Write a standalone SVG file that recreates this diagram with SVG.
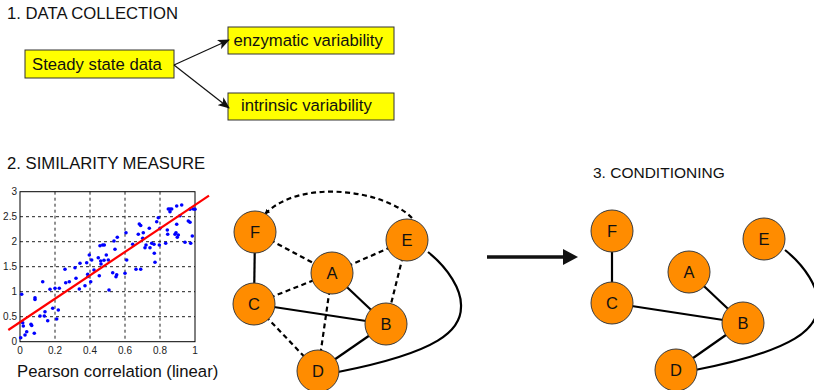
<svg xmlns="http://www.w3.org/2000/svg" width="814" height="390" viewBox="0 0 814 390">
  <style>
    .title { font-family: "Liberation Sans", Arial, sans-serif; font-size: 16.7px; fill: #111; }
    .lbl { font-family: "Liberation Sans", Arial, sans-serif; font-size: 16.7px; fill: #111; }
    .box { fill: #ffff00; stroke: #333; stroke-width: 1; }
    .flow { fill: none; stroke: #111; stroke-width: 1.2; }
    .tick { font-family: "Liberation Sans", Arial, sans-serif; font-size: 10px; fill: #222; }
    .grid { stroke: #222; stroke-width: 1; stroke-dasharray: 3 3; fill: none; }
    .pt { fill: #0000ff; }
    .node circle { fill: #ff8c00; stroke: #3a3a3a; stroke-width: 1; }
    .node text { font-family: "Liberation Sans", Arial, sans-serif; font-size: 16.5px; fill: #111; text-anchor: middle; }
    .solid { fill: none; stroke: #000; stroke-width: 2.2; }
    .dash { fill: none; stroke: #000; stroke-width: 2.2; stroke-dasharray: 5 3.5; }
  </style>
  <defs>
    <marker id="arr" viewBox="0 0 12 10" refX="11" refY="5" markerWidth="12" markerHeight="10" markerUnits="userSpaceOnUse" orient="auto">
      <path d="M0,0 L12,5 L0,10 L3,5 z" fill="#111"/>
    </marker>
    <marker id="arrSmall" viewBox="0 0 6 6" refX="5.5" refY="3" markerWidth="5" markerHeight="5" markerUnits="userSpaceOnUse" orient="auto">
      <path d="M0,0 L6,3 L0,6 z" fill="#000"/>
    </marker>
  </defs>

  <!-- section 1: data collection -->
  <text class="title" x="7" y="18.5">1. DATA COLLECTION</text>
  <g id="steady">
    <rect class="box" x="25" y="50" width="149" height="28"/>
    <text class="lbl" x="32" y="69.5">Steady state data</text>
  </g>
  <g id="enzymatic">
    <rect class="box" x="228" y="27" width="166" height="27"/>
    <text class="lbl" x="233.5" y="46">enzymatic variability</text>
  </g>
  <g id="intrinsic">
    <rect class="box" x="228" y="93" width="166" height="27"/>
    <text class="lbl" x="241" y="111">intrinsic variability</text>
  </g>
  <g id="flow-arrows">
    <line class="flow" x1="174" y1="65" x2="229" y2="40" marker-end="url(#arr)"/>
    <line class="flow" x1="174" y1="65" x2="229" y2="108" marker-end="url(#arr)"/>
  </g>

  <!-- section 2: similarity measure -->
  <text class="title" x="7" y="169">2. SIMILARITY MEASURE</text>
  <g id="scatter-plot">
    <rect x="20" y="191.7" width="175" height="150" fill="#fff"/>
    <g class="grid">
      <line x1="55" y1="191.7" x2="55" y2="341.7"/>
      <line x1="90" y1="191.7" x2="90" y2="341.7"/>
      <line x1="125" y1="191.7" x2="125" y2="341.7"/>
      <line x1="160" y1="191.7" x2="160" y2="341.7"/>
      <line x1="20" y1="216.7" x2="195" y2="216.7"/>
      <line x1="20" y1="241.7" x2="195" y2="241.7"/>
      <line x1="20" y1="266.7" x2="195" y2="266.7"/>
      <line x1="20" y1="291.7" x2="195" y2="291.7"/>
      <line x1="20" y1="316.7" x2="195" y2="316.7"/>
    </g>
    <rect x="20" y="191.7" width="175" height="150" fill="none" stroke="#000" stroke-width="1"/>
    <g class="tick" text-anchor="end">
      <text x="17" y="195">3</text>
      <text x="17" y="220">2.5</text>
      <text x="17" y="245">2</text>
      <text x="17" y="270">1.5</text>
      <text x="17" y="295">1</text>
      <text x="17" y="320">0.5</text>
      <text x="17" y="345">0</text>
    </g>
    <g class="tick" text-anchor="middle">
      <text x="20" y="354">0</text>
      <text x="55" y="354">0.2</text>
      <text x="90" y="354">0.4</text>
      <text x="125" y="354">0.6</text>
      <text x="160" y="354">0.8</text>
      <text x="195" y="354">1</text>
    </g>
    <g class="pt">
      <circle cx="20.7" cy="337.7" r="1.8"/><circle cx="21.7" cy="294.3" r="1.8"/>
      <circle cx="22.7" cy="322.7" r="1.8"/><circle cx="23.3" cy="326" r="1.8"/>
      <circle cx="25" cy="335" r="1.8"/><circle cx="26.7" cy="331.7" r="1.8"/>
      <circle cx="31" cy="324.3" r="1.8"/><circle cx="31.7" cy="325.5" r="1.8"/>
      <circle cx="34.3" cy="333.3" r="1.8"/><circle cx="35" cy="297.7" r="1.8"/>
      <circle cx="35" cy="299.5" r="1.8"/><circle cx="40" cy="316" r="1.8"/>
      <circle cx="42.7" cy="281.7" r="1.8"/><circle cx="44.3" cy="316" r="1.8"/>
      <circle cx="45" cy="311.7" r="1.8"/><circle cx="47.7" cy="320.7" r="1.8"/>
      <circle cx="50" cy="289.3" r="1.8"/><circle cx="52.7" cy="308.3" r="1.8"/>
      <circle cx="55" cy="288.3" r="1.8"/><circle cx="56.7" cy="319" r="1.8"/>
      <circle cx="58.3" cy="310" r="1.8"/><circle cx="59.3" cy="288.3" r="1.8"/>
      <circle cx="65" cy="269.3" r="1.8"/><circle cx="65.7" cy="282.7" r="1.8"/>
      <circle cx="69.3" cy="281.7" r="1.8"/><circle cx="75" cy="267.7" r="1.8"/>
      <circle cx="76" cy="278.3" r="1.8"/><circle cx="79.3" cy="289" r="1.8"/>
      <circle cx="80" cy="263.3" r="1.8"/><circle cx="85" cy="285.7" r="1.8"/>
      <circle cx="86.7" cy="262.7" r="1.8"/><circle cx="87.7" cy="274.3" r="1.8"/>
      <circle cx="88" cy="276.5" r="1.8"/><circle cx="89.3" cy="255" r="1.8"/>
      <circle cx="90.7" cy="281.7" r="1.8"/><circle cx="91.7" cy="260" r="1.8"/>
      <circle cx="94" cy="270" r="1.8"/><circle cx="98.3" cy="257.7" r="1.8"/>
      <circle cx="99.3" cy="275.7" r="1.8"/><circle cx="100" cy="245.7" r="1.8"/>
      <circle cx="102.7" cy="245" r="1.8"/><circle cx="101" cy="264" r="1.8"/>
      <circle cx="100.7" cy="261" r="1.8"/><circle cx="104" cy="260.3" r="1.8"/>
      <circle cx="104.3" cy="245" r="1.8"/><circle cx="106.3" cy="255" r="1.8"/>
      <circle cx="108.3" cy="260" r="1.8"/><circle cx="109" cy="290" r="1.8"/>
      <circle cx="112.7" cy="272.7" r="1.8"/><circle cx="115" cy="249.3" r="1.8"/>
      <circle cx="116" cy="276.7" r="1.8"/><circle cx="116.7" cy="274.8" r="1.8"/>
      <circle cx="114" cy="241" r="1.8"/><circle cx="117.3" cy="237.3" r="1.8"/>
      <circle cx="125" cy="273.3" r="1.8"/><circle cx="126" cy="232.7" r="1.8"/>
      <circle cx="126.7" cy="260" r="1.8"/><circle cx="132.7" cy="244.3" r="1.8"/>
      <circle cx="136" cy="269.3" r="1.8"/><circle cx="139.3" cy="224" r="1.8"/>
      <circle cx="140.7" cy="225.5" r="1.8"/><circle cx="138.3" cy="234.3" r="1.8"/>
      <circle cx="140.7" cy="269.3" r="1.8"/><circle cx="143.3" cy="232.7" r="1.8"/>
      <circle cx="142.7" cy="238.3" r="1.8"/><circle cx="145" cy="247.7" r="1.8"/>
      <circle cx="146" cy="245" r="1.8"/><circle cx="149.3" cy="228.3" r="1.8"/>
      <circle cx="150" cy="247.7" r="1.8"/><circle cx="151.7" cy="243.3" r="1.8"/>
      <circle cx="154" cy="244.3" r="1.8"/><circle cx="154.3" cy="253.3" r="1.8"/>
      <circle cx="155" cy="262.3" r="1.8"/><circle cx="156.7" cy="221.7" r="1.8"/>
      <circle cx="158.3" cy="217.7" r="1.8"/><circle cx="159.3" cy="245" r="1.8"/>
      <circle cx="160" cy="228.3" r="1.8"/><circle cx="165.7" cy="243.3" r="1.8"/>
      <circle cx="167.3" cy="230" r="1.8"/><circle cx="167.7" cy="234.3" r="1.8"/>
      <circle cx="168.3" cy="209" r="1.8"/><circle cx="170" cy="209" r="1.8"/>
      <circle cx="171.7" cy="209" r="1.8"/><circle cx="170" cy="211.7" r="1.8"/>
      <circle cx="175" cy="234.3" r="1.8"/><circle cx="176" cy="232.7" r="1.8"/>
      <circle cx="176.7" cy="224.3" r="1.8"/><circle cx="176.7" cy="206" r="1.8"/>
      <circle cx="177.3" cy="237.3" r="1.8"/><circle cx="178.3" cy="235" r="1.8"/>
      <circle cx="180" cy="215.7" r="1.8"/><circle cx="181.7" cy="205" r="1.8"/>
      <circle cx="185" cy="242.3" r="1.8"/><circle cx="188.3" cy="221" r="1.8"/>
      <circle cx="190" cy="222.3" r="1.8"/><circle cx="190" cy="209.3" r="1.8"/>
      <circle cx="190.7" cy="243.3" r="1.8"/><circle cx="192.3" cy="236" r="1.8"/>
      <circle cx="193.3" cy="209" r="1.8"/><circle cx="195" cy="209.3" r="1.8"/>
    </g>
    <line x1="8.3" y1="330" x2="209" y2="195.7" stroke="#ff0000" stroke-width="2.2"/>
  </g>
  <text class="lbl" x="17" y="377">Pearson correlation (linear)</text>

  <!-- similarity network: solid = strong, dashed = weak links -->
  <g id="edges-similarity">
    <line class="solid" x1="255" y1="232" x2="254" y2="304"/>
    <line class="dash" x1="255" y1="232" x2="332" y2="273"/>
    <line class="dash" x1="332" y1="273" x2="407" y2="240"/>
    <line class="dash" x1="254" y1="304" x2="332" y2="273"/>
    <line class="solid" x1="332" y1="273" x2="386" y2="324"/>
    <line class="dash" x1="407" y1="240" x2="386" y2="324"/>
    <line class="solid" x1="254" y1="304" x2="386" y2="324"/>
    <line class="dash" x1="254" y1="304" x2="318" y2="371"/>
    <line class="dash" x1="332" y1="273" x2="318" y2="371"/>
    <line class="solid" x1="386" y1="324" x2="318" y2="371"/>
    <path class="solid" d="M428,252 C448,268 462,290 461,307 C461,330 440,352 338,372"/>
    <path class="dash" d="M412,218 C385,190 300,178 265,214" marker-end="url(#arrSmall)"/>
  </g>
  <g id="s-F" class="node"><circle cx="255" cy="232" r="21"/><text x="255" y="238">F</text></g>
  <g id="s-E" class="node"><circle cx="407" cy="240" r="21"/><text x="407" y="246">E</text></g>
  <g id="s-A" class="node"><circle cx="332" cy="273" r="21"/><text x="332" y="279">A</text></g>
  <g id="s-C" class="node"><circle cx="254" cy="304" r="21"/><text x="254" y="310">C</text></g>
  <g id="s-B" class="node"><circle cx="386" cy="324" r="21"/><text x="386" y="330">B</text></g>
  <g id="s-D" class="node"><circle cx="318" cy="371" r="21"/><text x="318" y="377">D</text></g>

  <!-- step arrow -->
  <g id="step-arrow">
    <line x1="487" y1="257" x2="565" y2="257" stroke="#111" stroke-width="3.5"/>
    <path d="M563,249 L578,257 L563,265 z" fill="#111"/>
  </g>

  <!-- section 3: conditioning -->
  <text class="title" x="593" y="178" style="font-size:15.5px">3. CONDITIONING</text>
  <g id="edges-conditioned">
    <line class="solid" x1="612" y1="231" x2="612" y2="303"/>
    <line class="solid" x1="689" y1="272" x2="743" y2="323"/>
    <line class="solid" x1="612" y1="303" x2="743" y2="323"/>
    <line class="solid" x1="743" y1="323" x2="676" y2="370"/>
    <path class="solid" transform="translate(357,-2)" d="M428,252 C448,268 462,290 461,307 C461,330 440,352 338,372"/>
  </g>
  <g id="c-F" class="node"><circle cx="612" cy="231" r="21"/><text x="612" y="237">F</text></g>
  <g id="c-E" class="node"><circle cx="764" cy="239" r="21"/><text x="764" y="245">E</text></g>
  <g id="c-A" class="node"><circle cx="689" cy="272" r="21"/><text x="689" y="278">A</text></g>
  <g id="c-C" class="node"><circle cx="612" cy="303" r="21"/><text x="612" y="309">C</text></g>
  <g id="c-B" class="node"><circle cx="743" cy="323" r="21"/><text x="743" y="329">B</text></g>
  <g id="c-D" class="node"><circle cx="676" cy="370" r="21"/><text x="676" y="376">D</text></g>
</svg>
